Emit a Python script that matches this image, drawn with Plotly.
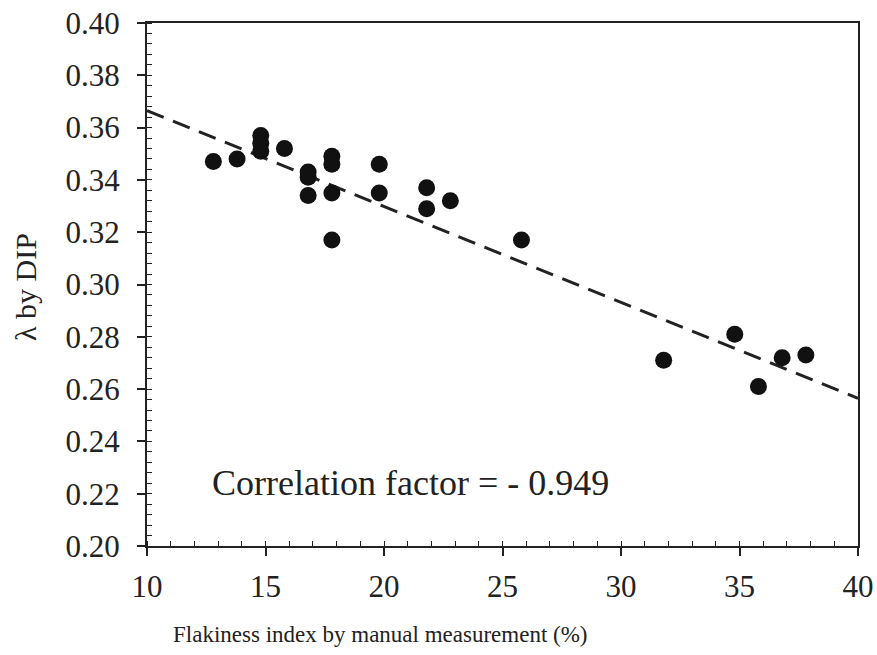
import plotly.graph_objects as go

# Data
flakiness = [12.8, 13.8, 14.8, 14.8, 14.8, 15.8, 16.8, 16.8, 16.8,
             17.8, 17.8, 17.8, 17.8, 19.8, 19.8, 21.8, 21.8, 22.8,
             25.8, 31.8, 34.8, 35.8, 36.8, 37.8]
lambda_dip = [0.347, 0.348, 0.357, 0.354, 0.351, 0.352, 0.343, 0.341, 0.334,
              0.349, 0.346, 0.335, 0.317, 0.346, 0.335, 0.337, 0.329, 0.332,
              0.317, 0.271, 0.281, 0.261, 0.272, 0.273]
fit_x = [10, 40]
fit_y = [0.3665, 0.2565]

x_ticks = [10, 15, 20, 25, 30, 35, 40]
y_ticks = [0.20, 0.22, 0.24, 0.26, 0.28, 0.30, 0.32, 0.34, 0.36, 0.38, 0.40]

FONT = "Liberation Serif"
INK = "#222222"

W, H = 877, 655
ML, MR, MT, MB = 147, 19, 23, 109
PW, PH = W - ML - MR, H - MT - MB

fig = go.Figure()
fig.add_trace(go.Scatter(
    x=fit_x, y=fit_y, mode="lines",
    line=dict(color=INK, width=3, dash="18px,10px"),
    showlegend=False, hoverinfo="skip"))
fig.add_trace(go.Scatter(
    x=flakiness, y=lambda_dip, mode="markers",
    marker=dict(color="#111111", size=17, line=dict(width=0)),
    showlegend=False))

fig.add_annotation(
    x=12.66, y=0.224, xref="x", yref="y", xanchor="left", yanchor="middle",
    text="Correlation factor = - 0.949", showarrow=False,
    font=dict(family=FONT, size=36, color=INK))

# x-axis title (sits left of plot centre in the reference)
fig.add_annotation(
    x=(380 - ML) / PW, y=(H - MB - 634) / PH, xref="paper", yref="paper",
    xanchor="center", yanchor="middle",
    text="Flakiness index by manual measurement (%)", showarrow=False,
    font=dict(family=FONT, size=23, color=INK))

# y-axis title
fig.add_annotation(
    x=(25 - ML) / PW, y=(H - MB - 287) / PH, xref="paper", yref="paper",
    xanchor="center", yanchor="middle", textangle=-90,
    text="λ by DIP", showarrow=False,
    font=dict(family=FONT, size=30, color=INK))

axis_common = dict(
    showgrid=False, zeroline=False, automargin=False,
    showline=True, linecolor=INK, linewidth=2, mirror=True,
    ticks="outside", ticklen=8, tickwidth=1.5, tickcolor=INK,
    tickfont=dict(family=FONT, size=31, color=INK),
)

fig.update_xaxes(
    range=[10, 40], tickvals=x_ticks, ticktext=[str(v) for v in x_ticks],
    minor=dict(dtick=1, ticks="inside", ticklen=5, tickwidth=1, tickcolor=INK),
    ticklabelstandoff=4,
    **axis_common)
fig.update_yaxes(
    range=[0.20, 0.40], tickvals=y_ticks, ticktext=[f"{v:.2f}" for v in y_ticks],
    minor=dict(dtick=0.004, ticks="inside", ticklen=5, tickwidth=1, tickcolor=INK),
    ticklabelstandoff=11,
    **axis_common)

fig.update_layout(
    width=W, height=H,
    margin=dict(l=ML, r=MR, t=MT, b=MB, autoexpand=False),
    paper_bgcolor="white", plot_bgcolor="white",
)

fig.write_html("out.html")
